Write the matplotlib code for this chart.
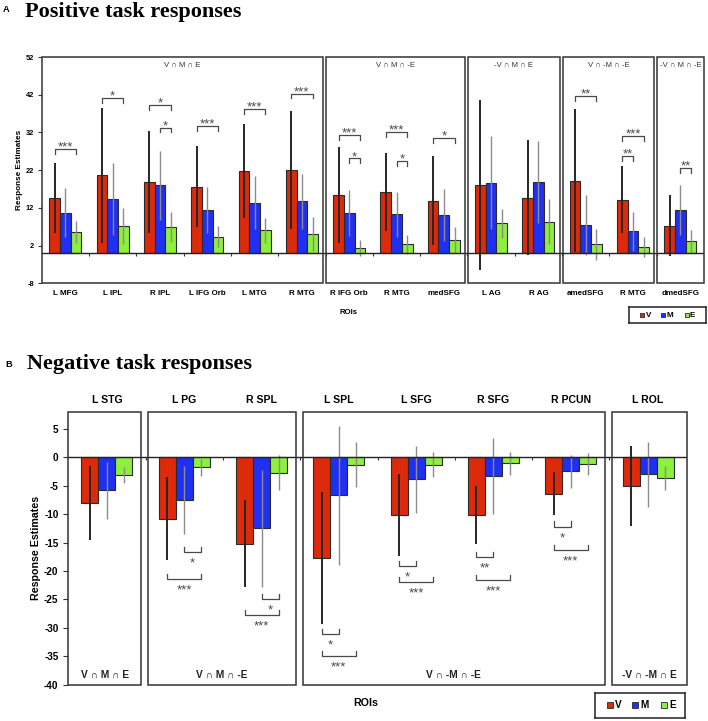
import matplotlib
matplotlib.use('Agg')
import matplotlib.pyplot as plt
from matplotlib.patches import Rectangle
import numpy as np

plt.rcParams['font.family'] = ['Liberation Sans', 'DejaVu Sans']

# ---------------- data ----------------
series = ['V', 'M', 'E']

A_rois = ["L MFG", "L IPL", "R IPL", "L IFG Orb", "L MTG", "R MTG",
          "R IFG Orb", "R MTG", "medSFG", "L AG", "R AG", "amedSFG", "R MTG", "dmedSFG"]
A_V = [14.7, 20.7, 18.9, 17.6, 21.8, 22.1, 15.4, 16.2, 13.9, 18.0, 14.7, 19.2, 14.2, 7.3]
A_M = [10.7, 14.3, 18.0, 11.4, 13.4, 13.8, 10.6, 10.3, 10.0, 18.7, 18.8, 7.5, 5.8, 11.4]
A_E = [5.5, 7.2, 7.0, 4.4, 6.0, 5.1, 1.4, 2.3, 3.5, 7.9, 8.3, 2.3, 1.7, 3.1]
A_V_err = [9.3, 17.9, 13.5, 10.8, 12.4, 15.6, 12.8, 10.4, 11.8, 22.5, 15.3, 19.0, 8.9, 8.0]
A_M_err = [6.5, 9.6, 9.1, 6.0, 7.0, 7.3, 6.1, 5.9, 6.9, 12.3, 10.9, 7.9, 5.2, 6.6]
A_E_err = [2.9, 4.7, 4.0, 2.7, 3.4, 4.6, 2.2, 2.6, 3.4, 3.9, 6.0, 4.0, 2.6, 3.1]
A_groups = ["V \u2229 M \u2229 E", "V \u2229 M \u2229 -E", "-V \u2229 M \u2229 E",
            "V \u2229 -M \u2229 -E", "-V \u2229 M \u2229 -E"]
A_group_sizes = [6, 3, 2, 2, 1]
# significance: (roi index, series a, series b, bracket level, label)
A_sig = [(0, 0, 2, 27.6, '***'), (1, 0, 2, 41.1, '*'), (2, 0, 2, 39.3, '*'),
         (2, 1, 2, 33.3, '*'), (3, 0, 2, 33.6, '***'), (4, 0, 2, 38.2, '***'),
         (5, 0, 2, 42.3, '***'), (6, 0, 2, 31.3, '***'), (6, 1, 2, 25.1, '*'),
         (7, 0, 2, 32.2, '***'), (7, 1, 2, 24.5, '*'), (8, 0, 2, 30.5, '*'),
         (11, 0, 2, 41.7, '**'), (12, 0, 2, 31.0, '***'), (12, 0, 1, 25.8, '**'),
         (13, 1, 2, 22.5, '**')]

B_rois = ["L STG", "L PG", "R SPL", "L SPL", "L SFG", "R SFG", "R PCUN", "L ROL"]
B_V = [-8.0, -10.8, -15.2, -17.7, -10.2, -10.2, -6.4, -5.1]
B_M = [-5.8, -7.5, -12.5, -6.7, -3.9, -3.3, -2.5, -3.0]
B_E = [-3.2, -1.8, -2.7, -1.3, -1.3, -1.1, -1.2, -3.6]
B_V_err = [6.5, 7.3, 7.7, 11.6, 7.2, 5.1, 3.8, 7.0]
B_M_err = [5.0, 6.0, 10.3, 12.2, 5.9, 6.6, 2.9, 5.7]
B_E_err = [1.4, 1.5, 3.0, 4.0, 2.2, 2.1, 2.0, 2.1]
B_groups = ["V \u2229 M \u2229 E", "V \u2229 M \u2229 -E", "V \u2229 -M \u2229 -E",
            "-V \u2229 -M \u2229 E"]
B_group_sizes = [1, 2, 4, 1]
B_sig = [(1, 1, 2, -16.7, '*'), (1, 0, 2, -21.4, '***'), (2, 1, 2, -24.9, '*'),
         (2, 0, 2, -27.7, '***'), (3, 0, 1, -31.1, '*'), (3, 0, 2, -35.0, '***'),
         (4, 0, 1, -19.1, '*'), (4, 0, 2, -21.9, '***'), (5, 0, 1, -17.5, '**'),
         (5, 0, 2, -21.6, '***'), (6, 0, 1, -12.2, '*'), (6, 0, 2, -16.3, '***')]

# ---------------- style ----------------
COLORS = ['#DC2A0A', '#1F30F2', '#8EEF3C']
EDGE = '#2a2a2a'
ERRC = ['#262626', '#8c8c8c', '#8c8c8c']
ERRLW = [1.4, 1.0, 1.0]
BOXC = '#333333'
SIGC = '#4a4a4a'

W, H = 708, 721
fig = plt.figure(figsize=(W / 100, H / 100), dpi=100)


def ax_at(l, t, r, b):
    return fig.add_axes([l / W, 1 - b / H, (r - l) / W, (b - t) / H])


def draw_bars(ax, vals, errs, width):
    n = len(vals[0])
    x = np.arange(n) + 0.5
    for s in range(3):
        xs = x + (s - 1) * width
        v = np.array(vals[s])
        e = np.array(errs[s])
        ax.bar(xs, v, width, color=COLORS[s], edgecolor=EDGE, linewidth=0.8, zorder=2)
        ax.vlines(xs, v - e, v + e, color=ERRC[s], lw=ERRLW[s], zorder=3)
    return x


def draw_boxes(ax, sizes, y0, y1, gap_l, gap_r):
    edges = np.concatenate([[0], np.cumsum(sizes)])
    centers = []
    for i in range(len(sizes)):
        a = edges[i] + (gap_l if i > 0 else 0)
        b = edges[i + 1] - (gap_r if i < len(sizes) - 1 else 0)
        ax.add_patch(Rectangle((a, y0), b - a, y1 - y0, fill=False, ec=BOXC,
                               lw=1.1, clip_on=False, zorder=5))
        centers.append((a + b) / 2)
    return centers


# ================= Panel A =================
axA = ax_at(41.7, 57, 704, 283.3)
axA.set_xlim(0, len(A_rois))
axA.set_ylim(-8, 52)
for sp in axA.spines.values():
    sp.set_visible(False)
wA = 0.226
xA = draw_bars(axA, [A_V, A_M, A_E], [A_V_err, A_M_err, A_E_err], wA)
axA.axhline(0, color='#222222', lw=1.0, zorder=4)
axA.vlines(np.arange(1, len(A_rois)), -0.8, 0, color='#333333', lw=0.8, zorder=4)
yt = np.arange(-8, 53, 10)
axA.set_yticks(yt, [str(v) for v in yt], fontsize=5.3, fontweight='bold')
axA.tick_params(axis='y', length=3.2, width=0.8, pad=2.4, color='#333333')
axA.set_xticks(xA, A_rois, fontsize=5.8, fontweight='bold')
axA.tick_params(axis='x', length=0, pad=4.6)
cA = draw_boxes(axA, A_group_sizes, -8, 52, 0.01, 0.053)
for c, g in zip(cA, A_groups):
    axA.text(c, 49.8, g, ha='center', va='center', fontsize=5.6, color='#333333')
for (i, a, b, y, lab) in A_sig:
    x1 = xA[i] + (a - 1) * wA
    x2 = xA[i] + (b - 1) * wA
    axA.plot([x1, x1, x2, x2], [y - 1.3, y, y, y - 1.3], color=SIGC, lw=0.9,
             zorder=6, clip_on=False)
    axA.text((x1 + x2) / 2, y - 0.4, lab, ha='center', va='baseline',
             fontsize=9.5, color=SIGC, zorder=6)

fig.text(20 / W, 1 - 170 / H, 'Response Estimates', rotation=90, ha='center',
         va='center', fontsize=5.9, fontweight='bold')
fig.text(349 / W, 1 - 313 / H, 'ROIs', ha='center', va='center', fontsize=5.6,
         fontweight='bold')
fig.text(3 / W, 1 - 11.7 / H, 'A', ha='left', va='baseline', fontsize=6.7,
         fontweight='bold')
fig.text(25 / W, 1 - 17.3 / H, 'Positive task responses', ha='left', va='baseline',
         fontsize=16, fontweight='bold', family='Liberation Serif')


def legend_box(l, t, r, b, sq_x, txt_x, sq, fs):
    lg = ax_at(l, t, r, b)
    lg.set_xlim(l, r)
    lg.set_ylim(b, t)
    lg.set_xticks([])
    lg.set_yticks([])
    for sp in lg.spines.values():
        sp.set_color('#222222')
        sp.set_linewidth(1.1)
    yc = (t + b) / 2
    for s in range(3):
        lg.add_patch(Rectangle((sq_x[s] - sq / 2, yc - sq / 2), sq, sq,
                               fc=COLORS[s], ec=EDGE, lw=0.6))
        lg.text(txt_x[s], yc, series[s], ha='left', va='center', fontsize=fs,
                fontweight='bold')


legend_box(629.3, 307.3, 706, 323.3, [642, 663, 687], [646.3, 666.3, 690.0], 4.3, 5.8)

# ================= Panel B =================
axB = ax_at(68.3, 411.7, 686.7, 684.7)
axB.set_xlim(0, len(B_rois))
axB.set_ylim(-40, 8)
for sp in axB.spines.values():
    sp.set_visible(False)
wB = 0.22
xB = draw_bars(axB, [B_V, B_M, B_E], [B_V_err, B_M_err, B_E_err], wB)
axB.axhline(0, color='#222222', lw=1.0, zorder=4)
axB.vlines(np.arange(1, len(B_rois)), -0.5, 0, color='#333333', lw=0.8, zorder=4)
ytB = np.arange(-40, 6, 5)
axB.set_yticks(ytB, [str(v) for v in ytB], fontsize=7.2, fontweight='bold')
axB.tick_params(axis='y', length=3.6, width=0.8, pad=3.4, color='#333333')
axB.xaxis.set_ticks_position('top')
axB.xaxis.set_label_position('top')
axB.set_xticks(xB, B_rois, fontsize=7.6, fontweight='bold')
axB.tick_params(axis='x', length=0, pad=5)
cB = draw_boxes(axB, B_group_sizes, -40, 8, 0.03, 0.06)
for c, g in zip(cB, B_groups):
    axB.text(c, -38.2, g, ha='center', va='center', fontsize=7.3,
             fontweight='bold', color='#222222')
for (i, a, b, y, lab) in B_sig:
    x1 = xB[i] + (a - 1) * wB
    x2 = xB[i] + (b - 1) * wB
    axB.plot([x1, x1, x2, x2], [y + 0.9, y, y, y + 0.9], color=SIGC, lw=0.9,
             zorder=6, clip_on=False)
    axB.text((x1 + x2) / 2, y - 2.58, lab, ha='center', va='baseline',
             fontsize=9.5, color=SIGC, zorder=6)

fig.text(36 / W, 1 - 548 / H, 'Response Estimates', rotation=90, ha='center',
         va='center', fontsize=7.7, fontweight='bold')
fig.text(353 / W, 1 - 703 / H, 'ROIs', ha='left', va='center', fontsize=7.7,
         fontweight='bold')
fig.text(5 / W, 1 - 366.7 / H, 'B', ha='left', va='baseline', fontsize=6.7,
         fontweight='bold')
fig.text(27 / W, 1 - 369.3 / H, 'Negative task responses', ha='left', va='baseline',
         fontsize=16, fontweight='bold', family='Liberation Serif')

legend_box(595, 692.7, 685, 717.7, [609.7, 635.2, 663.5], [614.5, 640.5, 669.5], 6, 7.2)

fig.savefig('out.png', dpi=100)
